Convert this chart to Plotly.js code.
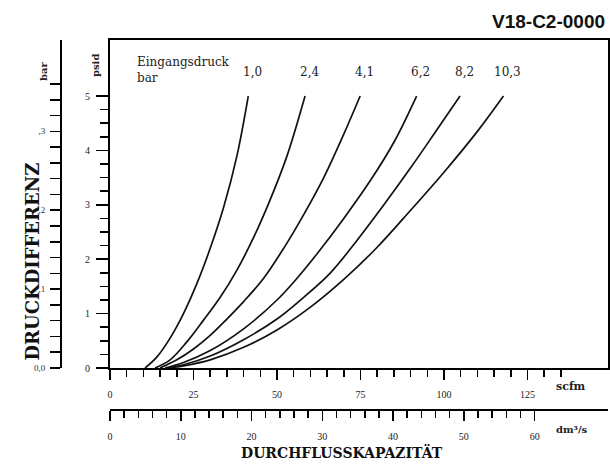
<!DOCTYPE html>
<html>
<head>
<meta charset="utf-8">
<script src="https://cdn.plot.ly/plotly-3.0.1.min.js"></script>
<style>html,body{margin:0;padding:0;background:#fff;}#chart{width:610px;height:474px;}</style>
</head>
<body>
<div id="chart"></div>
<script>
// ---- data (flow in scfm, pressure drop in psid) ----
const inletPressures = ['1,0', '2,4', '4,1', '6,2', '8,2', '10,3'];

const flow_1_0 = [10.5, 14, 18, 22, 26, 30, 34, 38, 41.4];
const dp_1_0   = [0, 0.2, 0.55, 1.0, 1.55, 2.2, 2.95, 3.9, 5.0];

const flow_2_4 = [13.5, 18, 23, 28, 33, 38, 43, 48, 53, 58.4];
const dp_2_4   = [0, 0.15, 0.48, 0.88, 1.3, 1.8, 2.4, 3.1, 3.9, 5.0];

const flow_4_1 = [15, 20, 25, 30, 35, 40, 46, 52, 58, 64, 70, 74.9];
const dp_4_1   = [0, 0.15, 0.35, 0.6, 0.9, 1.22, 1.65, 2.2, 2.82, 3.5, 4.3, 5.0];

const flow_6_2 = [16.5, 22, 30, 40, 50, 56, 62, 70, 78, 85, 91.8];
const dp_6_2   = [0, 0.1, 0.32, 0.72, 1.25, 1.65, 2.1, 2.75, 3.45, 4.15, 5.0];

const flow_8_2 = [17, 22, 30, 40, 50, 58, 66, 74, 82, 90, 97, 104.8];
const dp_8_2   = [0, 0.06, 0.22, 0.52, 0.9, 1.3, 1.75, 2.35, 3.0, 3.68, 4.3, 5.0];

const flow_10_3 = [17.5, 22, 30, 40, 50, 60, 70, 80, 90, 100, 110, 117.8];
const dp_10_3   = [0, 0.04, 0.15, 0.38, 0.7, 1.12, 1.63, 2.22, 2.9, 3.6, 4.35, 5.0];

const flows = [flow_1_0, flow_2_4, flow_4_1, flow_6_2, flow_8_2, flow_10_3];
const drops = [dp_1_0, dp_2_4, dp_4_1, dp_6_2, dp_8_2, dp_10_3];

// tick labels
const scfmTickVals = [0, 25, 50, 75, 100, 125];
const scfmTickText = ['0', '25', '50', '75', '100', '125'];
const dm3TickVals = [0, 10, 20, 30, 40, 50, 60];
const dm3TickText = ['0', '10', '20', '30', '40', '50', '60'];
const psidTickVals = [0, 1, 2, 3, 4, 5];
const psidTickText = ['0', '1', '2', '3', '4', '5'];
const barMajorVals = [0, 0.1, 0.2, 0.3];
const barMajorText = ['0,0', ',1', ',2', ',3'];

// ---- geometry helpers (paper fractions from pixels) ----
const W = 610, H = 474;
const px = v => v / W;
const py = v => 1 - v / H;

const PSI_PER_BAR = 14.5038;
const DM3S_PER_SCFM = 0.47195;
const scfmMax = 149.1;
const psidMax = 6.03;

function steps(from, to, step, skipEvery) {
  const out = [];
  for (let v = from; v <= to + 1e-9; v += step) {
    const r = Math.round(v * 1000) / 1000;
    if (skipEvery && Math.abs(r / skipEvery - Math.round(r / skipEvery)) < 1e-6) continue;
    out.push(r);
  }
  return out;
}

const serif = 'DejaVu Serif, Liberation Serif, serif';
const tickSerif = 'Liberation Serif, DejaVu Serif, serif';

const traces = flows.map((fx, i) => ({
  type: 'scatter', mode: 'lines',
  x: fx, y: drops[i],
  xaxis: 'x', yaxis: 'y',
  line: {color: '#111', width: 1.7, shape: 'spline', smoothing: 1},
  hoverinfo: 'skip', showlegend: false
}));
// placeholders so the secondary scales are drawn
traces.push({type: 'scatter', mode: 'markers', x: [null], y: [null], xaxis: 'x', yaxis: 'y2', showlegend: false, hoverinfo: 'skip'});
traces.push({type: 'scatter', mode: 'markers', x: [null], y: [null], xaxis: 'x2', yaxis: 'y', showlegend: false, hoverinfo: 'skip'});

const barTickVals = steps(0, 0.36, 0.02);
const barTickText = barTickVals.map(v => {
  const k = barMajorVals.findIndex(m => Math.abs(m - v) < 1e-6);
  return k >= 0 ? barMajorText[k] : '';
});

const tickFont = {family: tickSerif, size: 10, color: '#222'};

const layout = {
  width: W, height: H,
  margin: {l: 0, r: 0, t: 0, b: 0},
  paper_bgcolor: '#fff', plot_bgcolor: '#fff',
  showlegend: false,
  xaxis: {
    domain: [px(110), px(608)], range: [0, scfmMax], anchor: 'y',
    showline: true, linewidth: 2, linecolor: '#000', mirror: true,
    showgrid: false, zeroline: false,
    ticks: 'outside', ticklen: 10, tickwidth: 1.5, tickcolor: '#000',
    tickmode: 'array', tickvals: scfmTickVals, ticktext: scfmTickText,
    minor: {tickmode: 'array', tickvals: steps(0, 135, 5, 25), ticklen: 7, tickwidth: 1.5, tickcolor: '#000', showgrid: false},
    tickfont: tickFont, ticklabelstandoff: 6, automargin: false, fixedrange: true
  },
  xaxis2: {
    overlaying: 'x', anchor: 'free', position: py(410), side: 'bottom',
    range: [0, scfmMax * DM3S_PER_SCFM],
    showline: true, linewidth: 2, linecolor: '#000',
    showgrid: false, zeroline: false,
    ticks: 'outside', ticklen: 10, tickwidth: 1.5, tickcolor: '#000',
    tickmode: 'array', tickvals: dm3TickVals, ticktext: dm3TickText,
    minor: {tickmode: 'array', tickvals: steps(0, 60, 2, 10), ticklen: 7, tickwidth: 1.5, tickcolor: '#000', showgrid: false},
    tickfont: tickFont, ticklabelstandoff: 7, automargin: false, fixedrange: true
  },
  yaxis: {
    domain: [py(368), py(40)], range: [0, psidMax], anchor: 'x',
    showline: true, linewidth: 2, linecolor: '#000', mirror: true,
    showgrid: false, zeroline: false,
    ticks: 'outside', ticklen: 12, tickwidth: 1.5, tickcolor: '#000',
    tickmode: 'array', tickvals: psidTickVals, ticktext: psidTickText,
    minor: {tickmode: 'array', tickvals: steps(0, 5, 0.25, 1), ticklen: 8, tickwidth: 1.5, tickcolor: '#000', showgrid: false},
    tickfont: tickFont, ticklabelstandoff: 4, automargin: false, fixedrange: true
  },
  yaxis2: {
    overlaying: 'y', anchor: 'free', position: px(61), side: 'left',
    range: [0, psidMax / PSI_PER_BAR],
    showline: true, linewidth: 2, linecolor: '#000',
    showgrid: false, zeroline: false,
    ticks: 'outside', ticklen: 10, tickwidth: 1.5, tickcolor: '#000',
    tickmode: 'array', tickvals: barTickVals, ticktext: barTickText,
    tickfont: {family: tickSerif, size: 9, color: '#333'}, ticklabelstandoff: 3,
    automargin: false, fixedrange: true
  },
  annotations: [
    {text: '<b>V18-C2-0000</b>', xref: 'paper', yref: 'paper', x: px(607), y: py(22), xanchor: 'right', yanchor: 'middle', showarrow: false,
     font: {family: 'Liberation Sans, Arial, sans-serif', size: 19, color: '#111'}},
    {text: '<b>bar</b>', xref: 'paper', yref: 'paper', x: px(36), y: py(60), textangle: -90, showarrow: false,
     font: {family: serif, size: 10, color: '#222'}},
    {text: '<b>psid</b>', xref: 'paper', yref: 'paper', x: px(88), y: py(52), textangle: -90, showarrow: false,
     font: {family: serif, size: 10, color: '#222'}},
    {text: '<b>DRUCKDIFFERENZ</b>', xref: 'paper', yref: 'paper', x: px(19), y: py(262), textangle: -90, showarrow: false,
     font: {family: serif, size: 18, color: '#111'}},
    {text: '<b>DURCHFLUSSKAPAZITÄT</b>', xref: 'paper', yref: 'paper', x: px(342), y: py(463), showarrow: false,
     font: {family: serif, size: 14, color: '#111'}},
    {text: '<b>scfm</b>', xref: 'paper', yref: 'paper', x: px(588), y: py(395), showarrow: false,
     font: {family: serif, size: 11, color: '#222'}},
    {text: '<b>dm³/s</b>', xref: 'paper', yref: 'paper', x: px(590), y: py(437), showarrow: false,
     font: {family: serif, size: 10, color: '#222'}},
    {text: 'Eingangsdruck<br>bar', xref: 'paper', yref: 'paper', x: px(135), y: py(70), xanchor: 'left', yanchor: 'middle', align: 'left', showarrow: false,
     font: {family: serif, size: 12, color: '#222'}}
  ].concat(inletPressures.map((p, i) => ({
    text: p, xref: 'x', yref: 'y',
    x: flows[i][flows[i].length - 1] + 1.2, y: 5.44,
    showarrow: false, xanchor: 'center', yanchor: 'middle',
    font: {family: serif, size: 12, color: '#222'}
  })))
};

Plotly.newPlot('chart', traces, layout, {staticPlot: true, displayModeBar: false});
</script>
</body>
</html>
